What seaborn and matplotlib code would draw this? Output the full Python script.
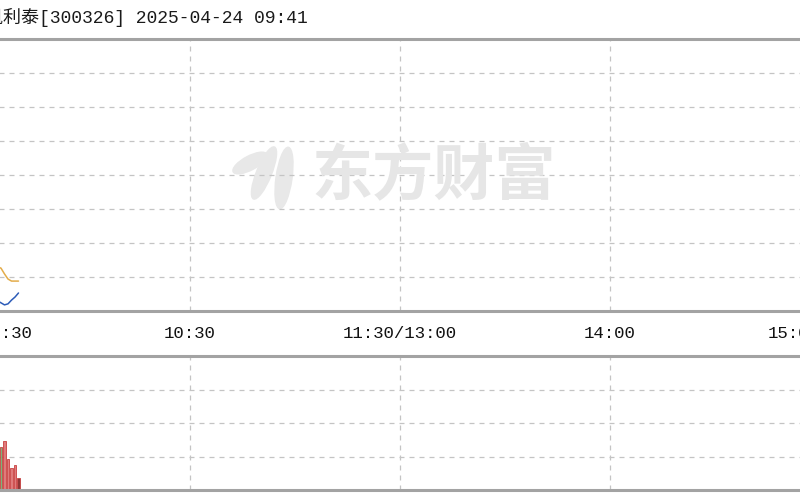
import matplotlib
matplotlib.use("Agg")
import matplotlib.pyplot as plt
import seaborn as sns
import pandas as pd
from matplotlib.patches import Ellipse

sns.set_theme(style="white")
plt.rcParams['font.family'] = ['Liberation Mono', 'Noto Sans CJK SC', 'DejaVu Sans']

# minutes since 09:30 (data up to 09:41)
minutes = list(range(12))
price_pct = [-1.9, -2.6, -3.1, -3.4, -3.6, -3.7, -3.76, -3.82, -3.79, -3.68, -3.59, -3.47]
avg_pct = [-1.9, -2.2, -2.4, -2.55, -2.65, -2.7, -2.74, -2.91, -3.06, -3.12, -3.12, -3.12]
volume = [3200, 2100, 1800, 1500, 1300, 1250, 1290, 1463, 925, 657, 746, 358]
vol_dir = ['down', 'down', 'up', 'down', 'up', 'down', 'down', 'up', 'up', 'up', 'up', 'now']

tick_pos = [0, 60, 120, 180, 240]
tick_labels = ['09:30', '10:30', '11:30/13:00', '14:00', '15:00']
title = '凯利泰[300326] 2025-04-24 09:41'

df = pd.DataFrame({'minute': minutes, 'price': price_pct, 'avg': avg_pct,
                   'volume': volume, 'dir': vol_dir})

fig = plt.figure(figsize=(8, 5), dpi=100)
fig.patch.set_facecolor('white')

W, H = 800, 500
left, width = -20 / W, 840 / W
ax_p = fig.add_axes([left, 1 - 311 / H, width, 272 / H])
ax_v = fig.add_axes([left, 1 - 490 / H, width, 134 / H])

grid_kw = dict(color='#c4c4c4', linestyle=(0, (4, 4)), linewidth=0.9)

# watermark
fig.text(434 / W, 1 - 176 / H, '东方财富', family=['Noto Sans CJK SC'], fontsize=44,
         fontweight='bold', color='#e6e6e6', ha='center', va='center', zorder=0)
for cx, cy, w, h, ang in [(250, 163, 14, 38, -62), (264, 173, 15, 56, -22), (284, 178, 16, 62, -8)]:
    fig.add_artist(Ellipse((cx / 100, (H - cy) / 100), w / 100, h / 100, angle=ang,
                           color='#e8e8e8', transform=fig.dpi_scale_trans, zorder=0))

for ax in (ax_p, ax_v):
    ax.set_facecolor('none')
    ax.set_xlim(0, 240)
    ax.set_xticks(tick_pos)
    for x in tick_pos[1:4]:
        ax.axvline(x, **grid_kw, zorder=0)
    for s in ('left', 'right'):
        ax.spines[s].set_visible(False)
    for s in ('top', 'bottom'):
        ax.spines[s].set_color('#a3a3a3')
        ax.spines[s].set_linewidth(2.2)
    ax.tick_params(length=0)

# price pane
ax_p.set_ylim(-4, 4)
for y in range(-3, 4):
    ax_p.axhline(y, **grid_kw, zorder=0)
sns.lineplot(data=df, x='minute', y='avg', ax=ax_p, color='#e3ac4a', linewidth=1.1)
sns.lineplot(data=df, x='minute', y='price', ax=ax_p, color='#2d5cb8', linewidth=1.1)
ax_p.set_yticks([])
ax_p.set_xlabel('')
ax_p.set_ylabel('')
ax_p.set_xticklabels(tick_labels, fontsize=12.5, color='#111111')
ax_p.tick_params(axis='x', pad=11)
labs = ax_p.get_xticklabels()
labs[0].set_ha('left')
labs[-1].set_ha('right')

# volume pane
ax_v.set_ylim(0, 4000)
for y in (1000, 2000, 3000):
    ax_v.axhline(y, **grid_kw, zorder=0)
sns.barplot(data=df, x='minute', y='volume', hue='dir', native_scale=True, dodge=False,
            palette={'up': '#f06a6a', 'down': '#6fbf6f', 'now': '#a02828'},
            width=0.72, linewidth=0.6, edgecolor='#c84040', legend=False, ax=ax_v)
ax_v.set_yticks([])
ax_v.set_xticklabels([])
ax_v.set_xlabel('')
ax_v.set_ylabel('')

fig.text(-15 / W, 1 - 17 / H, title, fontsize=13, color='#1a1a1a', ha='left', va='center')

fig.savefig('out.png', dpi=100, facecolor='white')
